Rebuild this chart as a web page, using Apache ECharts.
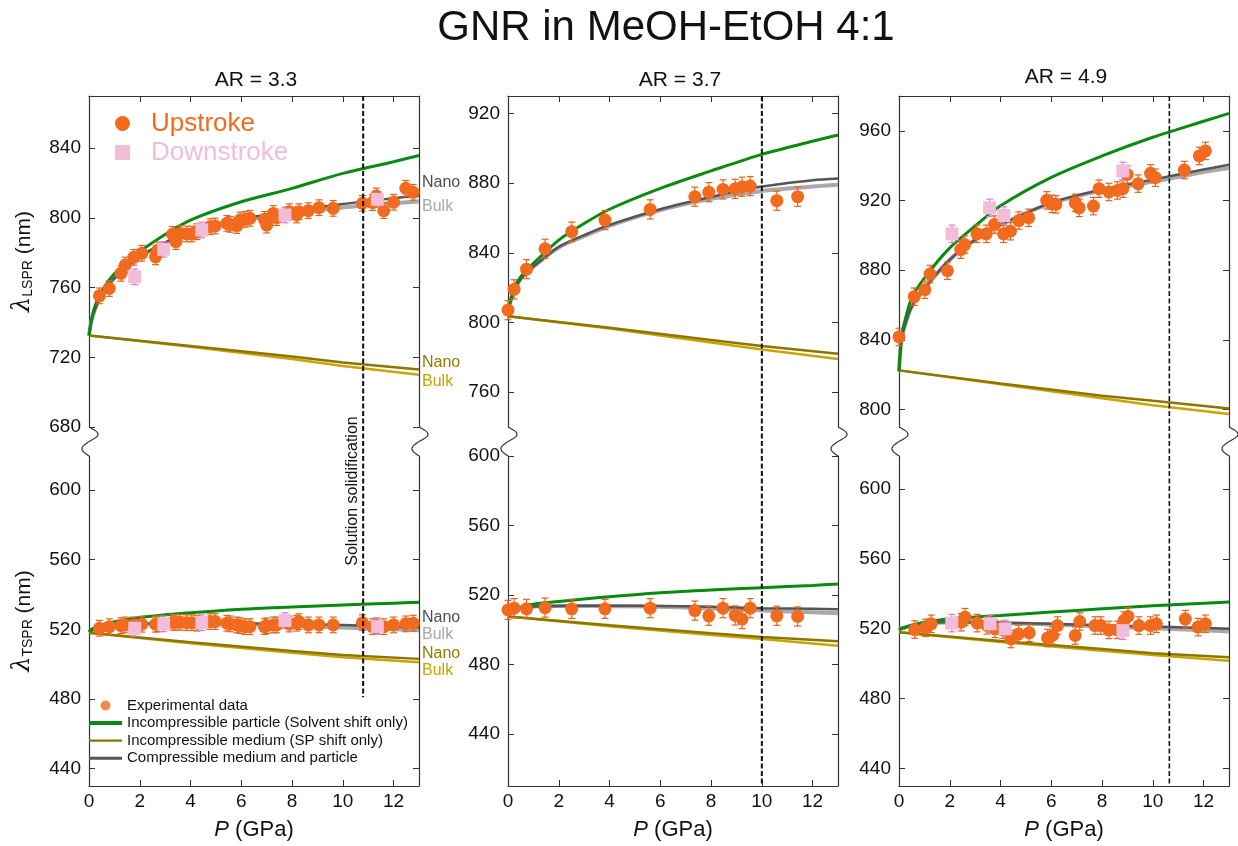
<!DOCTYPE html>
<html><head><meta charset="utf-8">
<script src="https://cdn.jsdelivr.net/npm/echarts@6/dist/echarts.min.js"></script>
<style>html,body{margin:0;padding:0;background:#fff}#c{width:1238px;height:846px}</style>
</head><body><div id="c"></div>
<script>
// ================= DATA =================
const X_TICKS = [0, 2, 4, 6, 8, 10, 12];
const X_TOP_TICKS = [2, 4, 6, 8, 10, 12];
const P1_UP_TICKS = [680, 720, 760, 800, 840];
const P1_LO_TICKS = [440, 480, 520, 560, 600];
const P2_UP_TICKS = [760, 800, 840, 880, 920];
const P2_LO_TICKS = [440, 480, 520, 560, 600];
const P3_UP_TICKS = [800, 840, 880, 920, 960];
const P3_LO_TICKS = [440, 480, 520, 560, 600];

const PANEL_TITLES = ['AR = 3.3', 'AR = 3.7', 'AR = 4.9'];
const SOLIDIFICATION_P = [10.8, 10.0, 10.65];
const SOLIDIFICATION_LOW = [481, 410, 430];

// model curves sampled at these pressures (GPa)
const CURVE_P = [0, 0.1, 0.25, 0.5, 1, 2, 3, 4, 6, 8, 10, 12, 13];
const YEL_P = [0, 4, 8, 10, 13];

// ---- Panel 1 (AR 3.3) ----
const p1UpP = [0.41, 0.80, 1.26, 1.43, 1.76, 2.08, 2.62, 2.71, 3.29, 3.42, 3.59, 3.85, 4.05, 4.25, 4.77, 4.97, 5.43, 5.56, 5.82, 5.95, 6.15, 6.34, 6.91, 7.00, 7.26, 7.39, 7.89, 8.18, 8.27, 8.64, 9.06, 9.62, 10.77, 11.17, 11.32, 11.61, 12.00, 12.48, 12.77];
const p1UpL = [755.3, 759.5, 768.2, 773.0, 777.4, 779.7, 777.7, 781.6, 790.6, 786.4, 791.1, 790.8, 790.8, 792.1, 795.0, 795.4, 796.9, 796.3, 795.6, 798.8, 799.2, 799.8, 799.2, 795.9, 802.6, 800.2, 803.6, 801.7, 803.6, 804.2, 805.9, 805.5, 808.4, 808.8, 812.6, 804.2, 809.0, 817.0, 814.7];
const p1UpT = [520.6, 521.5, 522.1, 522.5, 522.5, 522.9, 522.9, 523.1, 524.0, 524.0, 524.0, 523.8, 523.8, 523.5, 524.4, 524.4, 523.5, 523.1, 522.5, 522.1, 521.5, 521.5, 521.5, 522.0, 522.5, 522.5, 523.0, 523.5, 524.4, 522.5, 522.5, 522.5, 523.8, 521.5, 522.0, 521.5, 522.5, 523.1, 523.5];
const p1DnP = [1.80, 2.94, 4.44, 7.72, 11.36];
const p1DnL = [766.2, 782.0, 793.1, 801.7, 810.7];
const p1DnT = [520.6, 523.1, 523.8, 525.0, 521.5];
const p1Err = 4.5;
const p1GreenL = [732.5, 742, 750, 758, 768, 780.6, 790.5, 798.8, 809.3, 817, 825.6, 832.3, 835.8];
const p1NanoL  = [732.5, 741, 748, 756, 765.5, 777.7, 786, 792, 799.5, 804, 808, 811.3, 812.8];
const p1BulkL  = [732.5, 741, 748, 756, 765.5, 777.5, 785.5, 791.5, 798.5, 802.5, 806, 808.5, 809.5];
const p1YNanoL = [732.5, 726.5, 720.5, 717, 713];
const p1YBulkL = [732.5, 726, 719, 715, 710];
const p1GreenT = [518.5, 520, 521, 522.5, 524.3, 526.8, 528.3, 529.5, 531.5, 532.8, 534, 535, 535.5];
const p1NanoT  = [518.5, 519.3, 520, 521, 522, 523, 523.5, 523.5, 523.5, 523, 522.5, 521.5, 521];
const p1BulkT  = [518.5, 519.3, 520, 521, 522, 523, 523.3, 523.3, 523, 522, 521, 520, 519.5];
const p1YNanoT = [518, 512.5, 507.5, 505.2, 503];
const p1YBulkT = [518, 512, 506.5, 504, 501];

// ---- Panel 2 (AR 3.7) ----
const p2UpP = [0, 0.24, 0.73, 1.46, 2.51, 3.82, 5.6, 7.36, 7.91, 8.47, 8.95, 9.22, 9.54, 10.59, 11.41];
const p2UpL = [807.1, 819, 830.6, 842.3, 852.1, 858.8, 864.9, 872.2, 874.8, 876.4, 876.7, 877.9, 878.3, 869.9, 872.2];
const p2UpT = [511.4, 512.4, 512, 512.7, 512, 512, 512.4, 511, 508, 512.4, 508.2, 506.1, 512.4, 508, 507.6];
const p2Err = 5.5;
const p2GreenL = [806, 813, 820.5, 826.2, 833.9, 847.3, 856.8, 865, 877, 887, 896.5, 904, 907.6];
const p2NanoL  = [806, 812, 818, 825, 832, 843.4, 850.1, 856, 865, 872, 878, 881.7, 882.7];
const p2BulkL  = [806, 812, 818, 825, 832, 843, 849.5, 855.5, 864.5, 871, 875.5, 878, 879];
const p2YNanoL = [803.6, 797, 790, 786.5, 782];
const p2YBulkL = [803.6, 796.5, 788.5, 784.5, 779];
const p2GreenT = [510.5, 511.3, 512, 513, 514.7, 516.2, 517.7, 519, 521.3, 522.9, 524.2, 525.5, 526.3];
const p2NanoT  = [510.5, 511.2, 511.8, 512.5, 513.3, 513.7, 513.8, 513.8, 513.7, 513.2, 512.4, 512, 511.8];
const p2BulkT  = [510.5, 511.2, 511.8, 512.5, 513.3, 513.6, 513.6, 513.5, 513.2, 512.2, 511, 510, 509.5];
const p2YNanoT = [507.6, 502.5, 498, 495.8, 493.3];
const p2YBulkT = [507.6, 502, 497, 494.6, 490.8];

// ---- Panel 3 (AR 4.9) ----
const p3UpPL = [0, 0.6, 1.02, 1.22, 1.91, 2.43, 2.59, 3.07, 3.44, 3.76, 4.12, 4.39, 4.72, 5.11, 5.82, 6.03, 6.18, 6.94, 7.1, 7.66, 7.88, 8.27, 8.6, 8.82, 8.99, 9.42, 9.91, 10.1, 11.24, 11.83, 12.07];
const p3UpL = [841.7, 864.8, 868.8, 877.8, 879.7, 891.8, 894.7, 900.9, 900.9, 906.2, 900.9, 902.4, 908.5, 910.1, 920.1, 918.1, 917.8, 918.7, 915.8, 916.8, 926.8, 924.9, 925.8, 926.8, 935, 929.7, 935.6, 933.1, 937.5, 945.6, 948.5];
const p3UpPT = [0.62, 1.05, 1.27, 2.45, 2.6, 3.08, 3.46, 3.78, 4.08, 4.41, 4.71, 5.13, 5.85, 6.05, 6.24, 6.94, 7.12, 7.72, 7.95, 8.27, 8.6, 8.86, 9.02, 9.45, 9.91, 10.14, 11.28, 11.78, 12.07];
const p3UpT = [519.6, 520.6, 522.9, 523.8, 526.7, 523.3, 522, 520, 519.4, 514.2, 517.1, 517.7, 514.8, 516.2, 521.9, 516.2, 524.2, 521.9, 521.9, 519.4, 519.4, 524.8, 527.1, 521.9, 521.9, 522.9, 525.6, 521, 522.9];
const p3DnPL = [2.09, 3.57, 4.13, 8.82];
const p3DnL = [900.9, 915.8, 911.4, 937];
const p3DnPT = [2.08, 3.59, 4.18, 8.82];
const p3DnT = [523.3, 522.9, 520, 519];
const p3Err = 5;
const p3GreenL = [822, 842, 852, 864, 875.5, 892.8, 905.4, 917, 933.3, 945.6, 956.3, 965.5, 970];
const p3NanoL  = [822, 840, 849, 859, 869.5, 886, 897.5, 906, 918.8, 926.3, 932, 937.8, 940.5];
const p3BulkL  = [822, 840, 849, 859, 869.5, 886, 897.5, 906, 918.5, 925.8, 930.8, 936.3, 938.6];
const p3YNanoL = [822.5, 815, 808, 805, 800.6];
const p3YBulkL = [822.5, 814.5, 806.5, 802.5, 797.4];
const p3GreenT = [519.5, 520.3, 521, 522.1, 523.8, 525.8, 526.8, 527.7, 529.6, 531.5, 533.2, 534.6, 535.4];
const p3NanoT  = [519.5, 520.2, 520.8, 521.8, 523, 523.8, 523.8, 523.5, 522.9, 522, 521.3, 520.5, 520];
const p3BulkT  = [519.5, 520.2, 520.8, 521.8, 523, 523.7, 523.6, 523.2, 522.5, 521.2, 520.3, 519.2, 518.5];
const p3YNanoT = [518, 513, 508.5, 506, 503.7];
const p3YBulkT = [518, 512.5, 507.5, 505, 501.8];

// ================= STYLE / LAYOUT =================
const FONT = "'Liberation Sans', Arial, sans-serif";
const C = {
  orange: '#F26A1E', orangeErr: '#E0651C', pink: '#F3BCD9', pinkErr: '#E07AD4',
  green: '#0B8A12', nano: '#555555', bulk: '#A9A9A9', yNano: '#8C7500', yBulk: '#CBA400',
  axis: '#333333', text: '#111111'
};
const NAME_UP = 'Upstroke', NAME_DN = 'Downstroke';
const NAME_EXP = 'Experimental data';
const NAME_G = 'Incompressible particle (Solvent shift only)';
const NAME_Y = 'Incompressible medium (SP shift only)';
const NAME_C = 'Compressible medium and particle';

const W = 330, UP_TOP = 96, UP_H = 331, LO_TOP = 456, LO_H = 330;

const PANELS = [
  { left: 89,
    up: { min: 680, max: 870, ticks: P1_UP_TICKS, green: p1GreenL, nano: p1NanoL, bulk: p1BulkL, yNano: p1YNanoL, yBulk: p1YBulkL,
          upP: p1UpP, upV: p1UpL, dnP: p1DnP, dnV: p1DnL, err: p1Err },
    lo: { min: 430, max: 619.5, ticks: P1_LO_TICKS, green: p1GreenT, nano: p1NanoT, bulk: p1BulkT, yNano: p1YNanoT, yBulk: p1YBulkT,
          upP: p1UpP, upV: p1UpT, dnP: p1DnP, dnV: p1DnT, err: p1Err } },
  { left: 508,
    up: { min: 740, max: 930, ticks: P2_UP_TICKS, green: p2GreenL, nano: p2NanoL, bulk: p2BulkL, yNano: p2YNanoL, yBulk: p2YBulkL,
          upP: p2UpP, upV: p2UpL, dnP: [], dnV: [], err: p2Err },
    lo: { min: 410, max: 600, ticks: P2_LO_TICKS, green: p2GreenT, nano: p2NanoT, bulk: p2BulkT, yNano: p2YNanoT, yBulk: p2YBulkT,
          upP: p2UpP, upV: p2UpT, dnP: [], dnV: [], err: p2Err } },
  { left: 899,
    up: { min: 790, max: 980, ticks: P3_UP_TICKS, green: p3GreenL, nano: p3NanoL, bulk: p3BulkL, yNano: p3YNanoL, yBulk: p3YBulkL,
          upP: p3UpPL, upV: p3UpL, dnP: p3DnPL, dnV: p3DnL, err: p3Err },
    lo: { min: 430, max: 619, ticks: P3_LO_TICKS, green: p3GreenT, nano: p3NanoT, bulk: p3BulkT, yNano: p3YNanoT, yBulk: p3YBulkT,
          upP: p3UpPT, upV: p3UpT, dnP: p3DnPT, dnV: p3DnT, err: p3Err } }
];

const pairs = (xs, ys) => xs.map((x, i) => [x, ys[i]]);
const errData = (xs, ys, e) => xs.map((x, i) => [x, ys[i], e]);

function errRender(color) {
  return function (params, api) {
    const x = api.value(0), y = api.value(1), e = api.value(2);
    const t = api.coord([x, y + e]), b = api.coord([x, y - e]);
    const cw = 3.5, st = { stroke: color, lineWidth: 1.2 };
    return { type: 'group', children: [
      { type: 'line', shape: { x1: t[0], y1: t[1], x2: b[0], y2: b[1] }, style: st },
      { type: 'line', shape: { x1: t[0] - cw, y1: t[1], x2: t[0] + cw, y2: t[1] }, style: st },
      { type: 'line', shape: { x1: b[0] - cw, y1: b[1], x2: b[0] + cw, y2: b[1] }, style: st }
    ] };
  };
}

const grids = [], xAxes = [], yAxes = [], series = [];
const axisLine = { show: true, onZero: false, lineStyle: { color: C.axis, width: 1.2 } };

PANELS.forEach((p, i) => {
  ['up', 'lo'].forEach((part, j) => {
    const g = 2 * i + j;
    const d = p[part];
    const isUp = part === 'up';
    grids.push({ left: p.left, top: isUp ? UP_TOP : LO_TOP, width: W, height: isUp ? UP_H : LO_H });
    xAxes.push({
      gridIndex: g, type: 'value', min: 0, max: 13, position: isUp ? 'top' : 'bottom',
      axisLine, splitLine: { show: false },
      axisTick: { inside: true, length: 6, lineStyle: { color: C.axis }, customValues: X_TOP_TICKS },
      axisLabel: isUp ? { show: false } : { show: true, customValues: X_TICKS, fontSize: 19, color: C.text, fontFamily: FONT, margin: 6 },
      name: isUp ? '' : '{i|P} (GPa)', nameLocation: 'middle', nameGap: 33,
      nameTextStyle: { fontSize: 22, color: C.text, fontFamily: FONT, rich: { i: { fontSize: 22, fontStyle: 'italic', fontFamily: FONT, color: C.text } } }
    });
    const yName = i !== 0 ? '' : (isUp ? '{l|λ}{s|LSPR}{n| (nm)}' : '{l|λ}{s|TSPR}{n| (nm)}');
    yAxes.push({
      gridIndex: g, type: 'value', min: d.min, max: d.max, position: 'left',
      axisLine, splitLine: { show: false },
      axisTick: { inside: true, length: 6, lineStyle: { color: C.axis }, customValues: d.ticks },
      axisLabel: { customValues: d.ticks, fontSize: 19, color: C.text, fontFamily: FONT, margin: 8 },
      name: yName, nameLocation: 'middle', nameGap: 54,
      nameTextStyle: { fontFamily: FONT, color: C.text, rich: {
        l: { fontSize: 24, fontStyle: 'italic', fontFamily: 'DejaVu Serif, serif', color: C.text, verticalAlign: 'bottom' },
        s: { fontSize: 14, fontFamily: FONT, color: C.text, verticalAlign: 'bottom' },
        n: { fontSize: 21, fontFamily: FONT, color: C.text, verticalAlign: 'bottom' } } }
    });
    yAxes.push({
      gridIndex: g, type: 'value', min: d.min, max: d.max, position: 'right',
      axisLine, splitLine: { show: false },
      axisTick: { inside: true, length: 6, lineStyle: { color: C.axis }, customValues: d.ticks },
      axisLabel: { show: false }
    });
    const ax = { xAxisIndex: g, yAxisIndex: 2 * g };
    const mk = (name, xs, ys, color, width, smooth) => Object.assign({
      type: 'line', name, symbol: 'none', showSymbol: false, smooth, silent: true, z: 2,
      data: pairs(xs, ys), lineStyle: { color, width }, itemStyle: { color }
    }, ax);
    series.push(mk('bulk-c', CURVE_P, d.bulk, C.bulk, 4, 0.3));
    series.push(mk(NAME_C, CURVE_P, d.nano, C.nano, 2.5, 0.3));
    series.push(mk('bulk-y', YEL_P, d.yBulk, C.yBulk, 2.5, false));
    series.push(mk(NAME_Y, YEL_P, d.yNano, C.yNano, 2.5, false));
    series.push(mk(NAME_G, CURVE_P, d.green, C.green, 3, 0.3));
    series.push(Object.assign({ type: 'custom', name: 'err-up', silent: true, z: 3, renderItem: errRender(C.orangeErr), data: errData(d.upP, d.upV, d.err) }, ax));
    series.push(Object.assign({ type: 'scatter', name: NAME_UP, symbol: 'circle', symbolSize: 13, itemStyle: { color: C.orange, opacity: 1 }, z: 4, data: pairs(d.upP, d.upV) }, ax));
    if (d.dnP.length) {
      series.push(Object.assign({ type: 'custom', name: 'err-dn', silent: true, z: 3, renderItem: errRender(C.pinkErr), data: errData(d.dnP, d.dnV, d.err) }, ax));
      series.push(Object.assign({ type: 'scatter', name: NAME_DN, symbol: 'rect', symbolSize: 13, itemStyle: { color: C.pink, opacity: 1 }, z: 4, data: pairs(d.dnP, d.dnV) }, ax));
    }
  });
});
// legend-only series
series.push({ type: 'scatter', name: NAME_EXP, symbol: 'circle', symbolSize: 10, itemStyle: { color: C.orange }, xAxisIndex: 1, yAxisIndex: 2, data: [] });

const lineIcon = h => 'path://M0,0H33V' + h + 'H0Z';
const option = {
  animation: false,
  backgroundColor: '#ffffff',
  grid: grids, xAxis: xAxes, yAxis: yAxes, series,
  legend: [
    { orient: 'vertical', left: 110, top: 105, itemWidth: 47, itemHeight: 15, itemGap: 2, selectedMode: false,
      textStyle: { fontSize: 26, lineHeight: 27, fontFamily: FONT },
      data: [
        { name: NAME_UP, icon: 'circle', itemStyle: { color: C.orange }, textStyle: { color: C.orange } },
        { name: NAME_DN, icon: 'path://M0,0H10V10H0Z', itemStyle: { color: C.pink }, textStyle: { color: C.pink } }
      ] },
    { orient: 'vertical', left: 84, top: 693, itemWidth: 33, itemHeight: 10, itemGap: 2.6, selectedMode: false,
      textStyle: { fontSize: 15, lineHeight: 15, fontFamily: FONT, color: C.text },
      data: [
        { name: NAME_EXP, icon: 'circle', itemStyle: { color: C.orange } },
        { name: NAME_G, icon: lineIcon(4), itemStyle: { color: C.green } },
        { name: NAME_Y, icon: lineIcon(2.2), itemStyle: { color: C.yNano } },
        { name: NAME_C, icon: lineIcon(3), itemStyle: { color: C.nano } }
      ] }
  ]
};

const chart = echarts.init(document.getElementById('c'), null, { renderer: 'canvas' });
chart.setOption(option);

// ================= GRAPHIC DECORATIONS =================
const gfx = [];
const txt = (text, x, y, size, color, align, extra) => Object.assign({
  type: 'text', x, y, silent: true,
  style: { text, font: size + 'px ' + FONT, fill: color, textAlign: align || 'center', textVerticalAlign: 'middle', verticalAlign: 'middle' }
}, extra || {});

gfx.push(txt('GNR in MeOH-EtOH 4:1', 666, 28, 42, C.text));
PANEL_TITLES.forEach((t, i) => gfx.push(txt(t, PANELS[i].left + W / 2 + (i === 1 ? 7 : 2), i === 2 ? 77 : 80, 21, C.text)));

// axis break squiggles
const brkTop = UP_TOP + UP_H, brkBot = LO_TOP;
function squiggle(x) {
  const pts = [];
  const n = 24;
  for (let k = 0; k <= n; k++) {
    const t = k / n;
    const amp = t < 0.5 ? 9 : 7;
    pts.push([x + amp * Math.sin(2 * Math.PI * t), brkTop + (brkBot - brkTop) * t]);
  }
  return { type: 'polyline', silent: true, shape: { points: pts, smooth: 0.3 }, style: { stroke: C.axis, lineWidth: 1.2, fill: null } };
}
PANELS.forEach(p => { gfx.push(squiggle(p.left)); gfx.push(squiggle(p.left + W)); });

// solidification dashed lines
PANELS.forEach((p, i) => {
  const gu = 2 * i, gl = 2 * i + 1;
  const top = chart.convertToPixel({ xAxisIndex: gu, yAxisIndex: 2 * gu }, [SOLIDIFICATION_P[i], p.up.max]);
  const bot = chart.convertToPixel({ xAxisIndex: gl, yAxisIndex: 2 * gl }, [SOLIDIFICATION_P[i], SOLIDIFICATION_LOW[i]]);
  gfx.push({ type: 'line', silent: true, z: 10, shape: { x1: top[0], y1: top[1], x2: bot[0], y2: bot[1] },
             style: { stroke: '#111', lineWidth: i === 2 ? 1.6 : 2, lineDash: [5, 2.5] } });
  if (i === 0) {
    gfx.push(txt('Solution solidification', top[0] - 11, 491, 16, C.text, 'center', { rotation: Math.PI / 2 }));
  }
});

// Nano / Bulk labels (panel 1, right side)
const LX = 422;
[
  ['Nano', 183, '#4d4d55'], ['Bulk', 207, '#a8a8a8'], ['Nano', 363, '#937b00'], ['Bulk', 382, '#c9a200'],
  ['Nano', 618, '#4d4d55'], ['Bulk', 635, '#a8a8a8'], ['Nano', 654, '#937b00'], ['Bulk', 671, '#c9a200']
].forEach(([t, y, c]) => gfx.push(txt(t, LX, y, 16, c, 'left')));

chart.setOption({ graphic: gfx });
</script>
</body></html>
